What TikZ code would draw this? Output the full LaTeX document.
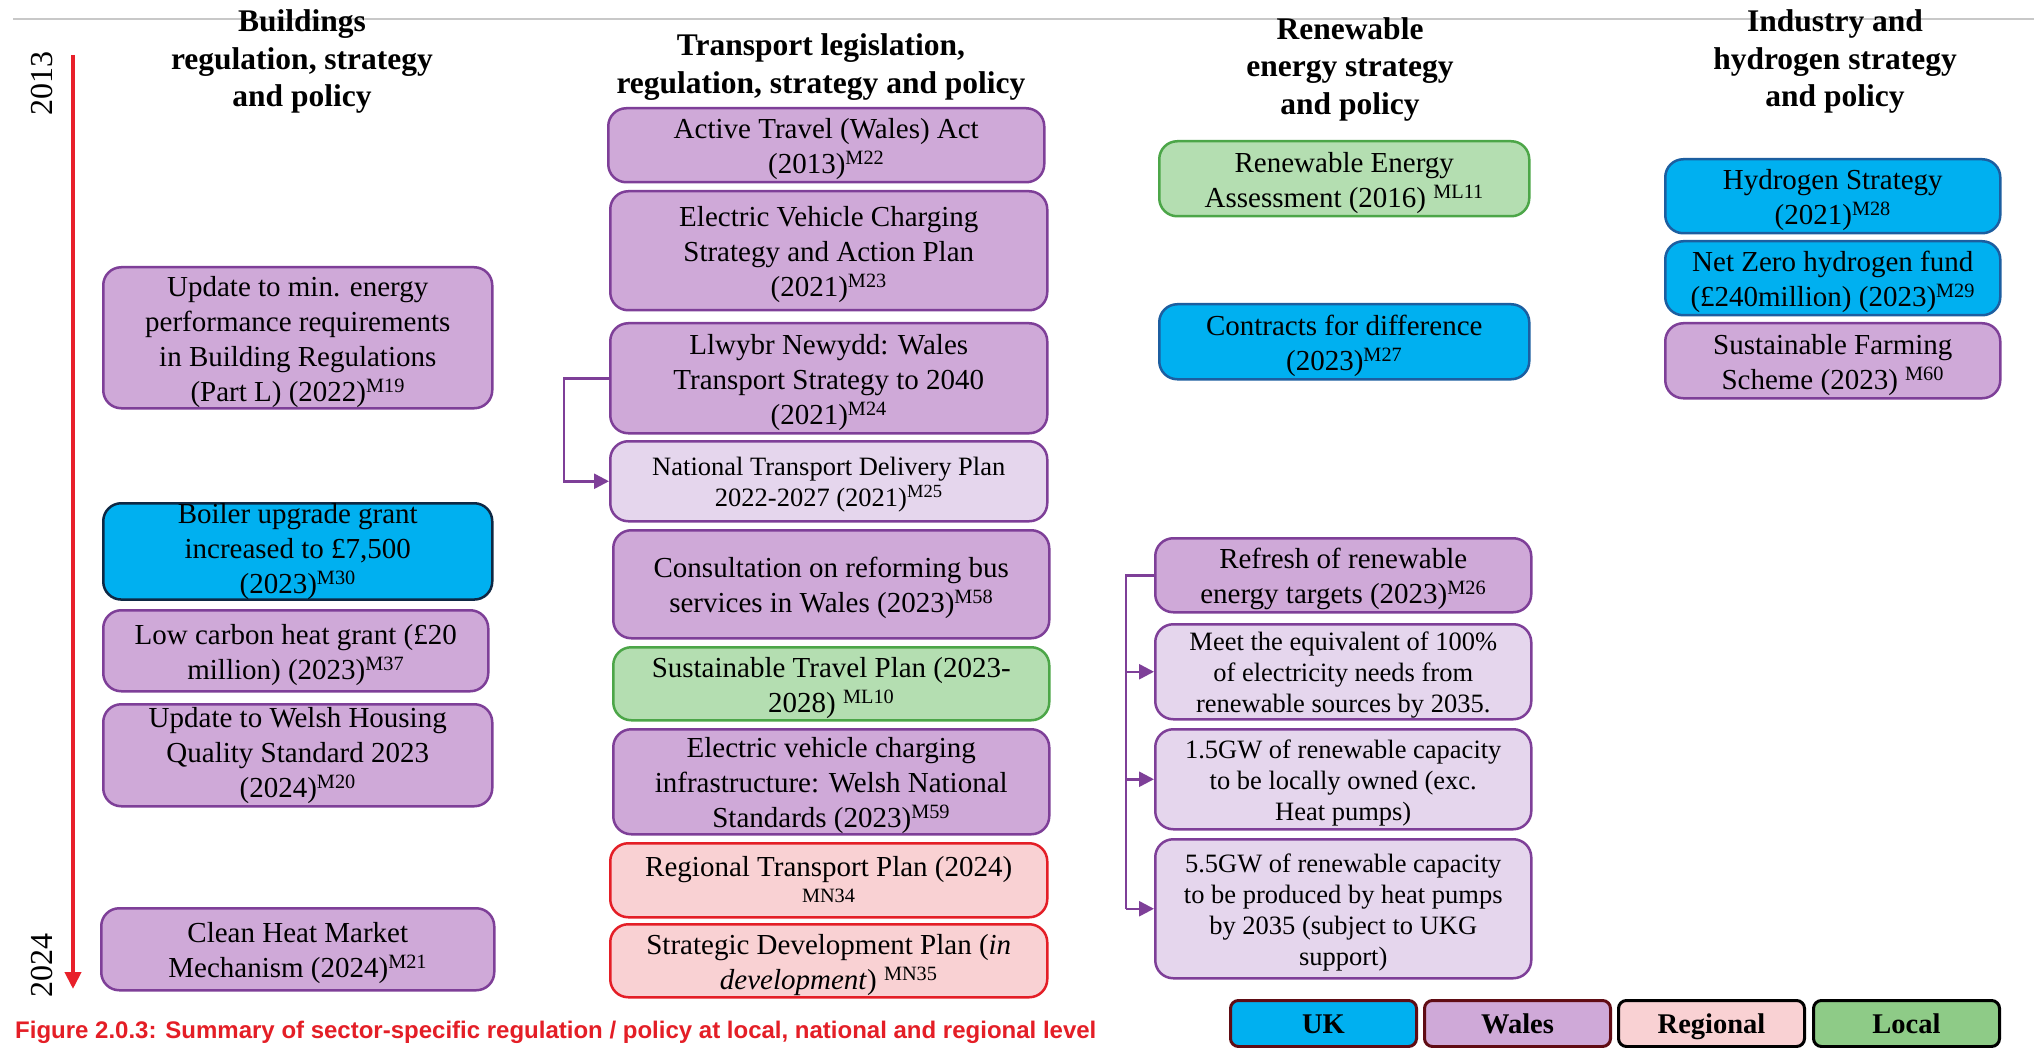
\documentclass[tikz,border=0pt]{standalone}
\usepackage{fontspec}
\setmainfont{Liberation Serif}
\newfontfamily\capfont{Liberation Sans}
\usetikzlibrary{arrows.meta}
\definecolor{walesfill}{RGB}{207,169,216}
\definecolor{walesdraw}{RGB}{126,63,152}
\definecolor{subfill}{RGB}{229,214,237}
\definecolor{ukfill}{RGB}{0,176,240}
\definecolor{ukdraw}{RGB}{28,94,160}
\definecolor{ukdark}{RGB}{14,40,68}
\definecolor{localfill}{RGB}{180,222,177}
\definecolor{localdraw}{RGB}{76,166,72}
\definecolor{regfill}{RGB}{249,209,211}
\definecolor{regdraw}{RGB}{228,30,38}
\definecolor{legdraw}{RGB}{96,12,20}
\definecolor{leglocal}{RGB}{142,203,135}
\definecolor{tlred}{RGB}{232,32,42}
\definecolor{rulegray}{RGB}{200,200,200}
\newcommand\sx[1]{\textsuperscript{#1}}
\newcommand\tp{\rule{0pt}{0.97em}}
\begin{document}
\begin{tikzpicture}[x=1pt,y=-1pt,
  box/.style={rounded corners=18pt, line width=2.5pt, align=center, inner sep=0pt, anchor=north west, font=\fontsize{29}{35}\selectfont},
  wales/.style={box, fill=walesfill, draw=walesdraw},
  sub/.style={box, fill=subfill, draw=walesdraw, font=\fontsize{26.5}{31}\selectfont},
  uk/.style={box, fill=ukfill, draw=ukdraw},
  ukd/.style={box, fill=ukfill, draw=ukdark},
  local/.style={box, fill=localfill, draw=localdraw},
  regional/.style={box, fill=regfill, draw=regdraw},
  head/.style={font=\fontsize{31.5}{37.5}\selectfont\bfseries, align=center, inner sep=0pt},
  legend/.style={rounded corners=8pt, line width=3pt, inner sep=0pt, font=\fontsize{28.5}{34}\selectfont\bfseries, text height=20pt, text depth=0pt, anchor=north west, minimum width=186pt, minimum height=46pt},
  conn/.style={draw=walesdraw, line width=2.5pt, -{Triangle[length=15pt,width=15pt]}},
  plainconn/.style={draw=walesdraw, line width=2.5pt},
  year/.style={rotate=90, inner sep=0pt, font=\fontsize{32}{36}\selectfont}
]
\useasboundingbox (0,0) rectangle (2034,1048);
\fill[white] (0,0) rectangle (2034,1048);
\draw[rulegray, line width=2pt] (13,19) -- (2034,19);

% headers
\node[head] (hb) at (302,61.5) {Buildings\\regulation, strategy\\and policy};
\node[head] (ht) at (821,67) {Transport legislation,\\regulation, strategy and policy};
\node[head] (hr) at (1350,69) {Renewable\\energy strategy\\and policy};
\node[head] (hi) at (1835,61.5) {Industry and\\hydrogen strategy\\and policy};

% timeline
\coordinate (tltop) at (73,55);
\coordinate (tlbot) at (73,989);
\draw[tlred, line width=4pt, -{Triangle[length=17pt,width=16pt]}] (tltop) -- (tlbot);
\node[year] (y2013) at (42,84) {2013};
\node[year] (y2024) at (42,965) {2024};

% buildings
\node[wales, minimum width=389pt, minimum height=141pt] (b1) at (102,266) {\tp Update to min. energy\\performance requirements\\in Building Regulations\\(Part L) (2022)\sx{M19}};
\node[ukd, minimum width=389pt, minimum height=94pt] (b2) at (102,502) {Boiler upgrade grant\\increased to £7,500\\(2023)\sx{M30}};
\node[wales, minimum width=385pt, minimum height=81pt] (b3) at (102,609) {\tp Low carbon heat grant (£20\\million) (2023)\sx{M37}};
\node[wales, minimum width=389pt, minimum height=102pt] (b4) at (102,703) {Update to Welsh Housing\\Quality Standard 2023\\(2024)\sx{M20}};
\node[wales, minimum width=393pt, minimum height=82pt] (b5) at (100,907) {\tp Clean Heat Market\\Mechanism (2024)\sx{M21}};

% transport
\node[wales, minimum width=436pt, minimum height=74pt] (t1) at (607,107) {\tp Active Travel (Wales) Act\\(2013)\sx{M22}};
\node[wales, minimum width=437pt, minimum height=119pt] (t2) at (609,190) {\tp Electric Vehicle Charging\\Strategy and Action Plan\\(2021)\sx{M23}};
\node[wales, minimum width=437pt, minimum height=110pt] (t3) at (609,322) {\tp Llwybr Newydd: Wales\\Transport Strategy to 2040\\(2021)\sx{M24}};
\node[sub, minimum width=437pt, minimum height=80pt] (t4) at (609,440) {\tp National Transport Delivery Plan\\2022-2027 (2021)\sx{M25}};
\node[wales, minimum width=436pt, minimum height=108pt] (t5) at (612,529) {\tp Consultation on reforming bus\\services in Wales (2023)\sx{M58}};
\node[local, minimum width=436pt, minimum height=73pt] (t6) at (612,646) {\tp Sustainable Travel Plan (2023-\\2028) \sx{ML10}};
\node[wales, minimum width=436pt, minimum height=105pt] (t7) at (612,728) {\tp Electric vehicle charging\\infrastructure: Welsh National\\Standards (2023)\sx{M59}};
\node[regional, minimum width=437pt, minimum height=74pt] (t8) at (609,842) {\tp Regional Transport Plan (2024)\\\sx{MN34}};
\node[regional, minimum width=437pt, minimum height=73pt] (t9) at (609,923) {\tp Strategic Development Plan (\textit{in}\\\textit{development}) \sx{MN35}};

\path (t3.west) ++(-45,0) coordinate (tv);
\draw[conn] (t3.west) -- (tv) |- (t4.west);

% renewable
\node[local, minimum width=370pt, minimum height=75pt] (r1) at (1158,140) {\tp Renewable Energy\\Assessment (2016) \sx{ML11}};
\node[uk, minimum width=370pt, minimum height=75pt] (r2) at (1158,303) {\tp Contracts for difference\\(2023)\sx{M27}};
\node[wales, minimum width=376pt, minimum height=74pt] (r3) at (1154,537) {\tp Refresh of renewable\\energy targets (2023)\sx{M26}};
\node[sub, minimum width=376pt, minimum height=95pt] (r4) at (1154,623) {\tp Meet the equivalent of 100\%\\of electricity needs from\\renewable sources by 2035.};
\node[sub, minimum width=376pt, minimum height=100pt] (r5) at (1154,728) {\tp 1.5GW of renewable capacity\\to be locally owned (exc.\\Heat pumps)};
\node[sub, minimum width=376pt, minimum height=139pt] (r6) at (1154,838) {\tp 5.5GW of renewable capacity\\to be produced by heat pumps\\by 2035 (subject to UKG\\support)};

\path (r3.west) ++(-28,0) coordinate (rv);
\draw[plainconn] (r3.west) -- (rv) -- (rv |- r6.west);
\draw[conn] (rv |- r4.west) -- (r4.west);
\draw[conn] (rv |- r5.west) -- (r5.west);
\draw[conn] (rv |- r6.west) -- (r6.west);

% industry
\node[uk, minimum width=335pt, minimum height=74pt] (i1) at (1664,158) {\tp Hydrogen Strategy\\(2021)\sx{M28}};
\node[uk, minimum width=335pt, minimum height=74pt] (i2) at (1664,240) {\tp Net Zero hydrogen fund\\(£240million) (2023)\sx{M29}};
\node[wales, minimum width=335pt, minimum height=75pt] (i3) at (1664,322) {\tp Sustainable Farming\\Scheme (2023) \sx{M60}};

% legend
\node[legend, fill=ukfill, draw=legdraw] (lu) at (1229,999) {UK};
\node[legend, fill=walesfill, draw=legdraw] (lw) at (1423,999) {Wales};
\node[legend, fill=regfill, draw=black] (lr) at (1617,999) {Regional};
\node[legend, fill=leglocal, draw=black] (ll) at (1812,999) {Local};

% caption
\node[anchor=base west, inner sep=0pt, text=regdraw, font=\capfont\bfseries\fontsize{24}{28}\selectfont] (cap) at (15,1038) {Figure 2.0.3: Summary of sector-specific regulation / policy at local, national and regional level};
\end{tikzpicture}
\end{document}
